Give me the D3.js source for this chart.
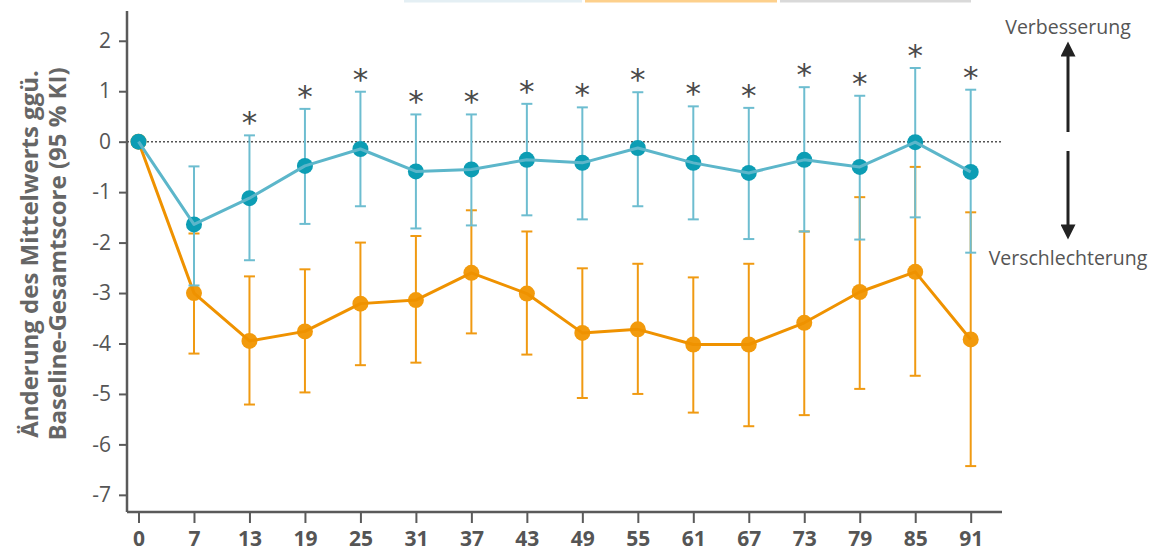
<!DOCTYPE html>
<html>
<head>
<meta charset="utf-8">
<script src="https://cdn.jsdelivr.net/npm/d3@7"></script>
<style>
  html, body { margin: 0; padding: 0; background: #fff; }
  svg { display: block; }
</style>
</head>
<body>
<svg id="chart" width="1156" height="553"></svg>
<script>
// Study days (categorical, evenly spaced)
const days = ["0", "7", "13", "19", "25", "31", "37", "43", "49", "55", "61", "67", "73", "79", "85", "91"];

// Treatment group: mean change and 95 % CI
const tealMean  = [0, -1.64, -1.12, -0.48, -0.145, -0.59, -0.55, -0.36, -0.42, -0.125, -0.42, -0.62, -0.36, -0.50, -0.01, -0.60];
const tealLower = [null, -2.85, -2.35, -1.63, -1.28, -1.72, -1.66, -1.46, -1.54, -1.28, -1.54, -1.93, -1.78, -1.94, -1.50, -2.20];
const tealUpper = [null, -0.49, 0.125, 0.65, 0.99, 0.54, 0.54, 0.75, 0.68, 0.98, 0.70, 0.67, 1.08, 0.91, 1.46, 1.03];

// Comparator group: mean change and 95 % CI
const orangeMean  = [0, -3.0, -3.95, -3.76, -3.21, -3.14, -2.6, -3.01, -3.79, -3.72, -4.02, -4.02, -3.59, -2.98, -2.58, -3.92];
const orangeLower = [null, -4.2, -5.21, -4.97, -4.43, -4.38, -3.8, -4.22, -5.08, -5.0, -5.37, -5.64, -5.42, -4.9, -4.64, -6.43];
const orangeUpper = [null, -1.82, -2.67, -2.53, -2.0, -1.87, -1.36, -1.78, -2.51, -2.42, -2.69, -2.42, -1.78, -1.10, -0.50, -1.40];

// Significant difference markers
const significant = [false, false, true, true, true, true, true, true, true, true, true, true, true, true, true, true];

const yTicks = [2, 1, 0, -1, -2, -3, -4, -5, -6, -7];

const svg = d3.select("#chart");
const axisColor = "#5a5a5a";
const textColor = "#555";

const x = d3.scalePoint().domain(days).range([138.5, 970.7]);
const y = d3.scaleLinear().domain([-7.34, 2.59]).range([512, 11]);
const axisLeftX = 127, axisRightX = 1002;

// Legend swatch strip along the top edge
const legendStrip = [
  { x0: 404, x1: 582, color: "#e4eff4" },
  { x0: 585, x1: 777, color: "#fdd08c" },
  { x0: 780, x1: 971, color: "#d9d9d9" }
];
svg.selectAll("rect.legend").data(legendStrip).join("rect")
  .attr("class", "legend")
  .attr("x", d => d.x0).attr("y", 0)
  .attr("width", d => d.x1 - d.x0).attr("height", 2.5)
  .attr("fill", d => d.color);

// Y axis (plain hyphen for negative values)
const yAxis = svg.append("g")
  .attr("transform", `translate(${axisLeftX},0)`)
  .call(d3.axisLeft(y).tickValues(yTicks).tickSize(8).tickPadding(8).tickFormat(d => String(d)));
yAxis.select(".domain").attr("d", `M0,${y.range()[1]}V${y.range()[0]}`).attr("stroke", axisColor).attr("stroke-width", 2.5);
yAxis.selectAll(".tick line").attr("stroke", axisColor).attr("stroke-width", 2);
yAxis.selectAll(".tick text")
  .attr("fill", textColor)
  .style("font-family", "'Open Sans', sans-serif")
  .style("font-size", "21px");

// X axis
const xAxis = svg.append("g")
  .attr("transform", `translate(0,${y.range()[0]})`)
  .call(d3.axisBottom(x).tickSize(11).tickPadding(8));
xAxis.select(".domain").attr("d", `M${axisLeftX},0H${axisRightX}`).attr("stroke", axisColor).attr("stroke-width", 2.5);
xAxis.selectAll(".tick line").attr("stroke", axisColor).attr("stroke-width", 2);
xAxis.selectAll(".tick text")
  .attr("fill", textColor)
  .style("font-family", "'Open Sans', sans-serif")
  .style("font-size", "21px")
  .style("font-weight", "bold");

// Y axis title (two lines)
const yTitle = svg.append("text")
  .attr("transform", `translate(0,254) rotate(-90)`)
  .attr("text-anchor", "middle")
  .attr("fill", "#666")
  .style("font-family", "'Open Sans', sans-serif")
  .style("font-size", "24px")
  .style("font-weight", "bold");
yTitle.append("tspan").attr("x", 0).attr("y", 38).text("Änderung des Mittelwerts ggü.");
yTitle.append("tspan").attr("x", 0).attr("y", 66).text("Baseline-Gesamtscore (95 % KI)");

// Zero reference line
svg.append("line")
  .attr("x1", axisLeftX).attr("x2", axisRightX)
  .attr("y1", y(0)).attr("y2", y(0))
  .attr("stroke", "#555").attr("stroke-width", 1.5)
  .attr("stroke-dasharray", "2,2");

function drawSeries(mean, lower, upper, lineColor, barColor, dotColor) {
  const g = svg.append("g");
  const pts = days.map((d, i) => ({ d, m: mean[i], lo: lower[i], hi: upper[i] }));
  const withCI = pts.filter(p => p.lo !== null);
  const cap = 5.5;
  g.selectAll("line.ci").data(withCI).join("line")
    .attr("x1", p => x(p.d)).attr("x2", p => x(p.d))
    .attr("y1", p => y(p.hi)).attr("y2", p => y(p.lo))
    .attr("stroke", barColor).attr("stroke-width", 2);
  g.selectAll("line.capTop").data(withCI).join("line")
    .attr("x1", p => x(p.d) - cap).attr("x2", p => x(p.d) + cap)
    .attr("y1", p => y(p.hi)).attr("y2", p => y(p.hi))
    .attr("stroke", barColor).attr("stroke-width", 2);
  g.selectAll("line.capBot").data(withCI).join("line")
    .attr("x1", p => x(p.d) - cap).attr("x2", p => x(p.d) + cap)
    .attr("y1", p => y(p.lo)).attr("y2", p => y(p.lo))
    .attr("stroke", barColor).attr("stroke-width", 2);
  g.selectAll("circle").data(pts).join("circle")
    .attr("cx", p => x(p.d)).attr("cy", p => y(p.m))
    .attr("r", 8).attr("fill", dotColor);
  g.append("path")
    .datum(pts)
    .attr("fill", "none").attr("stroke", lineColor).attr("stroke-width", 3)
    .attr("stroke-linejoin", "round")
    .attr("d", d3.line().x(p => x(p.d)).y(p => y(p.m)));
  return g;
}

drawSeries(orangeMean, orangeLower, orangeUpper, "#ef9200", "#f09a12", "#f29a0c");
drawSeries(tealMean, tealLower, tealUpper, "#5cb6ca", "#6dbdd0", "#0c9db4");

// Significance asterisks above the treatment CI
svg.append("g").selectAll("text").data(days.filter((d, i) => significant[i]).map(d => ({ d, hi: tealUpper[days.indexOf(d)] })))
  .join("text")
  .attr("x", p => x(p.d)).attr("y", p => y(p.hi) - 2)
  .attr("text-anchor", "middle")
  .attr("fill", "#4a4a4a")
  .style("font-family", "'DejaVu Sans', sans-serif")
  .style("font-size", "31px")
  .text("*");

// Direction annotations
const arrowX = 1068;
const defs = svg.append("defs");
defs.append("marker").attr("id", "head")
  .attr("viewBox", "0 0 10 10").attr("refX", 5).attr("refY", 5)
  .attr("markerWidth", 17).attr("markerHeight", 15).attr("markerUnits", "userSpaceOnUse")
  .attr("orient", "auto")
  .append("path").attr("d", "M0,0L10,5L0,10Z").attr("fill", "#222");

svg.append("line")
  .attr("x1", arrowX).attr("x2", arrowX).attr("y1", 132).attr("y2", 49)
  .attr("stroke", "#222").attr("stroke-width", 3).attr("marker-end", "url(#head)");
svg.append("line")
  .attr("x1", arrowX).attr("x2", arrowX).attr("y1", 151).attr("y2", 232)
  .attr("stroke", "#222").attr("stroke-width", 3).attr("marker-end", "url(#head)");

svg.append("text")
  .attr("x", arrowX).attr("y", 34).attr("text-anchor", "middle")
  .attr("fill", textColor)
  .style("font-family", "'Open Sans', sans-serif").style("font-size", "19.5px")
  .text("Verbesserung");
svg.append("text")
  .attr("x", arrowX).attr("y", 265).attr("text-anchor", "middle")
  .attr("fill", textColor)
  .style("font-family", "'Open Sans', sans-serif").style("font-size", "19.5px")
  .text("Verschlechterung");
</script>
</body>
</html>
